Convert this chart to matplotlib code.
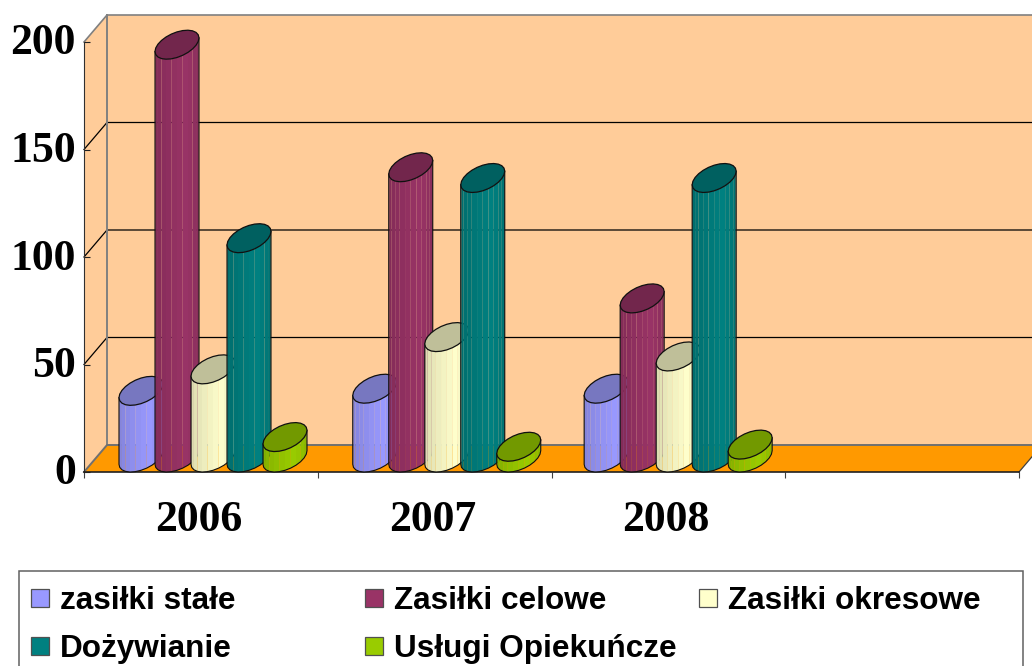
import matplotlib
matplotlib.use('Agg')
import matplotlib.pyplot as plt
from matplotlib.patches import Rectangle
from matplotlib.transforms import ScaledTranslation
import numpy as np

years = ['2006', '2007', '2008']
year_ticks = [0, 1, 2, 3, 4]
value_ticks = [0, 50, 100, 150, 200]
names = ['zasiłki stałe', 'Zasiłki celowe', 'Zasiłki okresowe', 'Dożywianie', 'Usługi Opiekuńcze']
colors = ['#9999FF', '#993366', '#FFFFCC', '#008080', '#99CC00']
tops = ['#7777C0', '#72264C', '#BFBF99', '#006060', '#729900']

zasilki_stale = [31, 32, 32]
zasilki_celowe = [192, 135, 74]
zasilki_okresowe = [41, 56, 47]
dozywianie = [102, 130, 130]
uslugi = [9.5, 5, 6]
series = [zasilki_stale, zasilki_celowe, zasilki_okresowe, dozywianie, uslugi]

W, H = 1032, 666
fig = plt.figure(figsize=(W / 100, H / 100), dpi=100)
ax = fig.add_axes([84 / W, 1 - 472 / H, 935 / W, 430 / H])
ax.set_xlim(0, 4)
ax.set_ylim(0, 200)
ax.patch.set_visible(False)

# size of one pixel in data units
px = 4 / 935
py = 200 / 430
depth_x = 23 * px
depth_y = 27 * py

# walls and floor
ax.fill([0, depth_x, depth_x, 0], [0, depth_y, 200 + depth_y, 200], color='#FFCC99', ec='none', clip_on=False, zorder=0)
ax.fill([depth_x, 4 + depth_x, 4 + depth_x, depth_x], [depth_y, depth_y, 200 + depth_y, 200 + depth_y],
        color='#FFCC99', ec='none', clip_on=False, zorder=0)
ax.fill([0, 4, 4 + depth_x, depth_x], [0, 0, depth_y, depth_y], color='#FF9900', ec='none', clip_on=False, zorder=1)

for v in value_ticks[1:-1]:
    ax.plot([0, depth_x, 4 + depth_x], [v, v + depth_y, v + depth_y], color='black', lw=0.9, clip_on=False, zorder=1)
ax.plot([0, depth_x, 4 + depth_x], [200, 200 + depth_y, 200 + depth_y], color='#808080', lw=1.2, clip_on=False, zorder=1)
ax.plot([depth_x, depth_x], [0 + depth_y, 200 + depth_y], color='#808080', lw=1.4, clip_on=False, zorder=1)
ax.plot([0, depth_x, 4 + depth_x], [0, depth_y, depth_y], color='#707070', lw=1.4, clip_on=False, zorder=1)
ax.plot([4, 4 + depth_x], [0, depth_y], color='#404040', lw=0.9, clip_on=False, zorder=1)

for s in ['top', 'right']:
    ax.spines[s].set_visible(False)
ax.spines['left'].set_color('#303030')
ax.spines['bottom'].set_color('#202020')
ax.spines['bottom'].set_linewidth(1.2)

ax.set_yticks(value_ticks)
ax.set_xticks(year_ticks)
ax.set_xticklabels([])
ax.set_xticks([0.49, 1.49, 2.49], minor=True)
ax.set_xticklabels(years, minor=True, family='Liberation Serif', weight='bold', fontsize=31.5)
ax.set_yticklabels(value_ticks, family='Liberation Serif', weight='bold', fontsize=31.5)
ax.tick_params(axis='y', direction='in', length=4.5, width=0.8, pad=6, color='#202020')
ax.tick_params(axis='x', which='major', direction='out', length=4, width=0.8, color='#404040')
ax.tick_params(axis='x', which='minor', length=0, pad=20)
for lab in ax.get_yticklabels():
    lab.set_transform(lab.get_transform() + ScaledTranslation(0, 3 / 100, fig.dpi_scale_trans))


def cylinder(cx, value, color, top, z):
    # slanted ellipse in pixels: left tip low, right tip high
    t = np.linspace(np.pi, 3 * np.pi, 25)[:-1]
    ex = 22 * np.cos(t)
    ey = 14.5 * np.cos(t - np.radians(62))
    base = 14.5 * py
    rgb = np.array(matplotlib.colors.to_rgb(color))
    # first half of t is the lower outline, that is the visible side
    side_x = cx + ex[:13] * px
    side_low = base + ey[:13] * py
    side_high = value + base + ey[:13] * py
    n = 12
    for k in range(n):
        f = k / (n - 1)
        shade = 0.84 + 0.16 * min(f / 0.65, 1) - 0.13 * max((f - 0.65) / 0.35, 0)
        ax.fill([side_x[k], side_x[k + 1], side_x[k + 1], side_x[k]],
                [side_low[k], side_low[k + 1], side_high[k + 1], side_high[k]],
                color=tuple(rgb * shade), ec='none', clip_on=False, zorder=z)
    ax.plot(np.r_[side_x[0], side_x, side_x[-1]], np.r_[side_high[0], side_low, side_high[-1]],
            color='#101010', lw=0.8, clip_on=False, zorder=z + 0.1)
    ax.fill(cx + ex * px, value + base + ey * py, fc=top, ec='#101010', lw=0.9, clip_on=False, zorder=z + 0.2)


group_x = [0, 1, 1.99]
first_bar = 57 * px
bar_step = 36 * px
for i in range(len(series)):
    for j in range(len(years)):
        cylinder(group_x[j] + first_bar + i * bar_step, series[i][j], colors[i], tops[i], 5 + i + j * 10)


# legend box, runs off the bottom of the picture
def fx(x):
    return x / W


def fy(y):
    return 1 - y / H


fig.add_artist(Rectangle((fx(19), fy(700)), 1004 / W, 129 / H, fc='white', ec='#606060', lw=1.1, transform=fig.transFigure))
legend_x = [31, 365, 699, 31, 365]
legend_y = [598, 598, 598, 646, 646]
for i in range(len(names)):
    fig.add_artist(Rectangle((fx(legend_x[i]), fy(legend_y[i] + 9)), 18 / W, 18 / H, fc=colors[i], ec='#505050', lw=0.9,
                             transform=fig.transFigure))
    fig.text(fx(legend_x[i] + 29), fy(legend_y[i] + 11), names[i], family='Liberation Sans', weight='bold',
             fontsize=22.7, va='baseline', ha='left', color='black')

fig.savefig('out.png', dpi=100)
